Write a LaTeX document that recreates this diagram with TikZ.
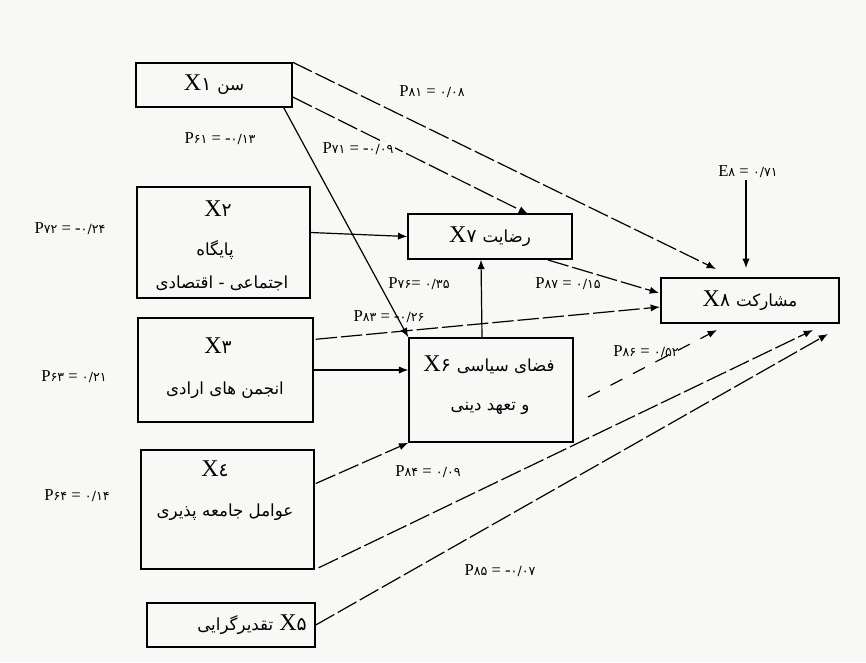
\documentclass[tikz,border=0pt]{standalone}
\usepackage{fontspec}
\setmainfont{Liberation Serif}
\newfontfamily\arfont[Script=Arabic]{DejaVu Sans}
\newfontfamily\dgfont{DejaVu Sans}
\TeXXeTstate=1
\usetikzlibrary{arrows.meta,calc}
\definecolor{bgc}{RGB}{248,248,246}
\newcommand{\myfa}[1]{{\arfont\fontsize{12.5}{14}\selectfont\beginR #1\endR}}
\newcommand{\bx}[1]{X{\dgfont\fontsize{14}{16}\selectfont #1}}
\newcommand{\pd}[1]{{\dgfont\fontsize{9.5}{11}\selectfont #1}}
\begin{document}
\begin{tikzpicture}[x=0.75pt,y=-0.75pt,
  box/.style={draw, line width=1.1pt, inner sep=0pt, font=\fontsize{18}{20}\selectfont},
  tx/.style={inner sep=0pt, font=\fontsize{18}{20}\selectfont},
  lab/.style={inner sep=1pt, font=\fontsize{12.5}{14}\selectfont},
  arr/.style={-{Latex[length=7pt,width=5.5pt]}, line width=0.9pt},
  dlong/.style={dash pattern=on 16pt off 3pt},
  dshort/.style={dash pattern=on 10pt off 9pt}]
\useasboundingbox (0,0) rectangle (866,662);
\fill[bgc] (0,0) rectangle (866,662);

% boxes
\node[box, minimum width=117pt, minimum height=33pt] (X1) at (214,85) {\bx{١} \myfa{سن}};
\node[box, minimum width=129.75pt, minimum height=83.25pt] (X2) at (223.5,242.5) {};
\node[box, minimum width=131.25pt, minimum height=78pt] (X3) at (225.5,370) {};
\node[box, minimum width=129.75pt, minimum height=89.25pt] (X4) at (227.5,509.5) {};
\node[box, minimum width=126pt, minimum height=33pt] (X5) at (231,625) {};
\node[box, minimum width=123pt, minimum height=33.75pt] (X7) at (490,236.5) {\bx{٧} \myfa{رضایت}};
\node[box, minimum width=123pt, minimum height=78pt] (X6) at (491,390) {};
\node[box, minimum width=133.5pt, minimum height=33.75pt] (X8) at (750,300.5) {\bx{٨} \myfa{مشارکت}};

% texts inside multi-line boxes
\node[tx] (t2a) at (218,209) {\bx{٢}};
\node[tx] (t2b) at (215,250) {\myfa{پایگاه}};
\node[tx] (t2c) at (222,283) {\myfa{اجتماعی - اقتصادی}};
\node[tx] (t3a) at (218,346) {\bx{٣}};
\node[tx] (t3b) at (225,390) {\myfa{انجمن های ارادی}};
\node[tx] (t4a) at (215,469) {\bx{٤}};
\node[tx] (t4b) at (225,512) {\myfa{عوامل جامعه پذیری}};
\node[tx] (t5) at (252,625) {\myfa{تقدیرگرایی} \bx{۵}};
\node[tx] (t6a) at (489,365) {\bx{۶} \myfa{فضای سیاسی}};
\node[tx] (t6b) at (490,408) {\myfa{و تعهد دینی}};

% free ends
\coordinate (e81) at (716,269);
\coordinate (e71) at (528,214);
\coordinate (e87) at (659,293);
\coordinate (e83) at (660,307);
\coordinate (e86) at (717,330);
\coordinate (e84) at (813,330);
\coordinate (e85) at (828,334);
\coordinate (s87) at (548,260);
\coordinate (s86) at (588,397);

% connectors
\draw[arr,dlong] (X1.north east) -- (e81);
\draw[arr,dlong] ($(X1.east)+(0,12)$) -- (e71);
\draw[arr] ($(X1.south east)+(-9,0)$) -- (X6.north west);
\draw[arr] ($(X2.east)+(0,-10)$) -- (X7.west);
\draw[arr] ($(X6.north)+(-9,0)$) -- ($(X7.south)+(-9,0)$);
\draw[arr,dlong] ($(X3.north east)+(2,22)$) -- (e83);
\draw[arr] (X3.east) -- (X3.east -| X6.west);
\draw[arr,dlong] ($(X4.east)+(1,-26)$) -- (X6.south west);
\draw[arr,dlong] ($(X4.south east)+(4,-2)$) -- (e84);
\draw[arr,dlong] (X5.east) -- (e85);
\draw[arr,dlong] (s87) -- (e87);
\draw[arr,dshort] (s86) -- (e86);

% path labels
\node[lab] (p81) at (432,92) {P\pd{٨١} = \pd{٠/٠٨}};
\node[lab] (p61) at (220,139) {P\pd{۶١} = -\pd{٠/١٣}};
\node[lab, fill=bgc] (p71) at (358,149) {P\pd{٧١} = -\pd{٠/٠٩}};
\node[lab] (p72) at (70,229) {P\pd{٧٢} = -\pd{٠/٢۴}};
\node[lab] (p76) at (419,284) {P\pd{٧۶}= \pd{٠/٣۵}};
\node[lab] (p87) at (568,284) {P\pd{٨٧} = \pd{٠/١۵}};
\node[lab] (p83) at (389,317) {P\pd{٨٣} = -\pd{٠/٢۶}};
\node[lab] (p86) at (646,352) {P\pd{٨۶} = \pd{٠/۵٢}};
\node[lab] (p63) at (74,377) {P\pd{۶٣} = \pd{٠/٢١}};
\node[lab] (p84) at (428,472) {P\pd{٨۴} = \pd{٠/٠٩}};
\node[lab] (p64) at (77,496) {P\pd{۶۴} = \pd{٠/١۴}};
\node[lab] (p85) at (500,571) {P\pd{٨۵} = -\pd{٠/٠٧}};
\node[lab] (E8) at (748,172) {E\pd{٨} = \pd{٠/٧١}};
\draw[arr] (E8.south -| 746,0) -- (746,268);
\end{tikzpicture}
\end{document}
